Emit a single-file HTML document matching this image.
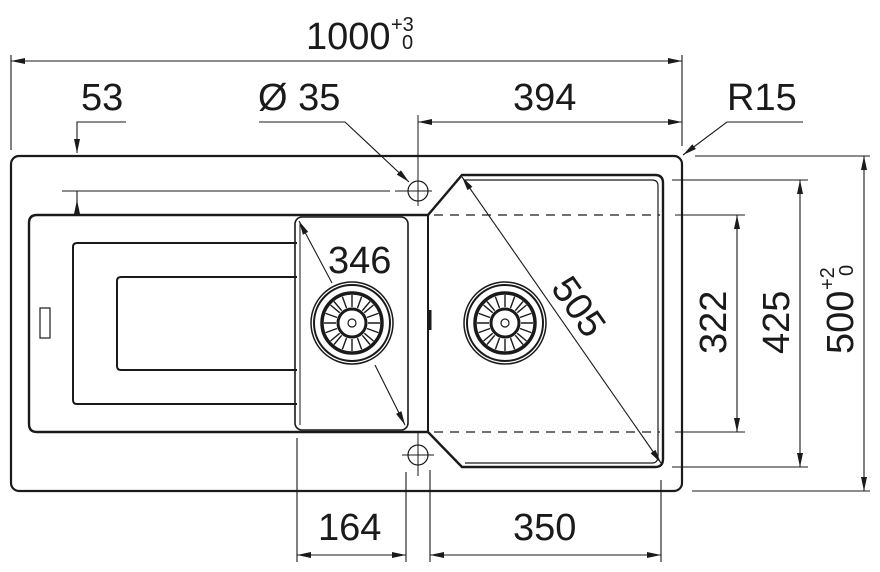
<!DOCTYPE html>
<html><head><meta charset="utf-8"><style>
html,body{margin:0;padding:0;background:#fff;}
svg{display:block;}
text{font-family:"Liberation Sans",Arial,sans-serif;fill:#1a1a1a;}
</style></head><body>
<svg width="880" height="572" viewBox="0 0 880 572" xmlns="http://www.w3.org/2000/svg">
<defs>
<marker id="a" viewBox="0 0 14 6" refX="14" refY="3" markerWidth="14" markerHeight="6" markerUnits="userSpaceOnUse" orient="auto-start-reverse"><path d="M0,0 L14,3 L0,6 Z" fill="#1a1a1a"/></marker>
<g id="drain">
<circle r="41" fill="none" stroke="#1a1a1a" stroke-width="1.5"/>
<circle r="38" fill="none" stroke="#1a1a1a" stroke-width="2"/>
<circle r="30" fill="none" stroke="#1a1a1a" stroke-width="3.5"/>
<circle r="14" fill="none" stroke="#1a1a1a" stroke-width="3"/>
<circle r="4" fill="none" stroke="#1a1a1a" stroke-width="1.2"/>
<g stroke="#1a1a1a" stroke-width="1.4">
<path d="M0,-16V-28 M0,16V28 M-16,0H-28 M16,0H28 M5.5,-15L9.6,-26.3 M-5.5,-15L-9.6,-26.3 M5.5,15L9.6,26.3 M-5.5,15L-9.6,26.3 M15,5.5L26.3,9.6 M15,-5.5L26.3,-9.6 M-15,5.5L-26.3,9.6 M-15,-5.5L-26.3,-9.6 M10.3,-12.3L18,-21.5 M-10.3,-12.3L-18,-21.5 M10.3,12.3L18,21.5 M-10.3,12.3L-18,21.5 M12.3,10.3L21.5,18 M-12.3,10.3L-21.5,18 M12.3,-10.3L21.5,-18 M-12.3,-10.3L-21.5,-18"/>
</g>
</g>
</defs>
<g fill="none" stroke="#1a1a1a">
<rect x="11" y="156" width="671" height="335" rx="8" stroke-width="2.2"/>
<path d="M37,215 H428 L462,175 H655 Q663,175 663,183 V459 Q663,467 655,467 H462 L428,432 H37 Q29,432 29,424 V223 Q29,215 37,215 Z" stroke-width="2.4"/>
<path d="M428,215 V432" stroke-width="2"/>
<path d="M465,180 H652 Q658,180 658,186 V456 Q658,463 652,463 H465" stroke-width="1.2"/>
<rect x="295" y="217" width="113" height="213" rx="7" stroke-width="1.6"/>
<path d="M300,222 V425" stroke-width="1"/>
<path d="M297,243 H77 Q73,243 73,247 V400 Q73,404 77,404 H297" stroke-width="2"/>
<path d="M297,277 H121 Q117,277 117,281 V366 Q117,370 121,370 H297" stroke-width="2"/>
<rect x="40" y="308" width="10" height="30" stroke-width="1.2"/>
<path d="M430,310 V330" stroke-width="3"/>
<path d="M434,215 H660 M434,432 H660" stroke-width="1.2" stroke-dasharray="9,7"/>
<circle cx="418" cy="191" r="10" stroke-width="1.2"/>
<path d="M418,115 V206 M395,191 H432" stroke-width="1"/>
<circle cx="418" cy="455" r="10" stroke-width="1.2"/>
<path d="M418,432 V476 M402,455 H434" stroke-width="1"/>
<path d="M62,191 H390" stroke-width="1"/>
</g>
<use href="#drain" x="352" y="323"/>
<use href="#drain" x="505" y="323"/>
<g stroke="#1a1a1a" stroke-width="1.1" fill="none">
<path d="M11,55 V150 M682,55 V146"/>
<path d="M11,61 H682" marker-start="url(#a)" marker-end="url(#a)"/>
<path d="M126,122 H77 V153" marker-end="url(#a)"/>
<path d="M77,191 V215"/>
<path d="M77,215 V200" marker-end="url(#a)"/>
<path d="M259,122 H345 L409,182" marker-end="url(#a)"/>
<path d="M418,122 H682" marker-start="url(#a)" marker-end="url(#a)"/>
<path d="M803,122 H727 L683,155" marker-end="url(#a)"/>
<path d="M332,283 L299,221" marker-end="url(#a)"/>
<path d="M375,365 L405,425" marker-end="url(#a)"/>
<path d="M462,177 L661,463" marker-start="url(#a)" marker-end="url(#a)"/>
<path d="M695,156 H870 M672,180 H808 M675,215 H745 M675,432 H745 M672,467 H808 M692,491 H870"/>
<path d="M864,156 V491" marker-start="url(#a)" marker-end="url(#a)"/>
<path d="M800,180 V467" marker-start="url(#a)" marker-end="url(#a)"/>
<path d="M737,215 V432" marker-start="url(#a)" marker-end="url(#a)"/>
<path d="M297,438 V562 M406,472 V562 M430,470 V562 M661,480 V562"/>
<path d="M297,555 H406" marker-start="url(#a)" marker-end="url(#a)"/>
<path d="M430,555 H661" marker-start="url(#a)" marker-end="url(#a)"/>
</g>
<g font-size="38">
<text x="306" y="49">1000</text>
<text x="391" y="31" font-size="20">+3</text>
<text x="402" y="49" font-size="20">0</text>
<text x="81" y="110">53</text>
<text x="258" y="110">Ø 35</text>
<text x="513" y="110">394</text>
<text x="727" y="110">R15</text>
<text x="328" y="273">346</text>
<text transform="translate(550,288) rotate(55)">505</text>
<text transform="translate(726,354) rotate(-90)">322</text>
<text transform="translate(789,354) rotate(-90)">425</text>
<text transform="translate(853,354) rotate(-90)">500</text>
<text transform="translate(834,290) rotate(-90)" font-size="20">+2</text>
<text transform="translate(853,276) rotate(-90)" font-size="20">0</text>
<text x="318" y="540">164</text>
<text x="513" y="540">350</text>
</g>
</svg>
</body></html>
